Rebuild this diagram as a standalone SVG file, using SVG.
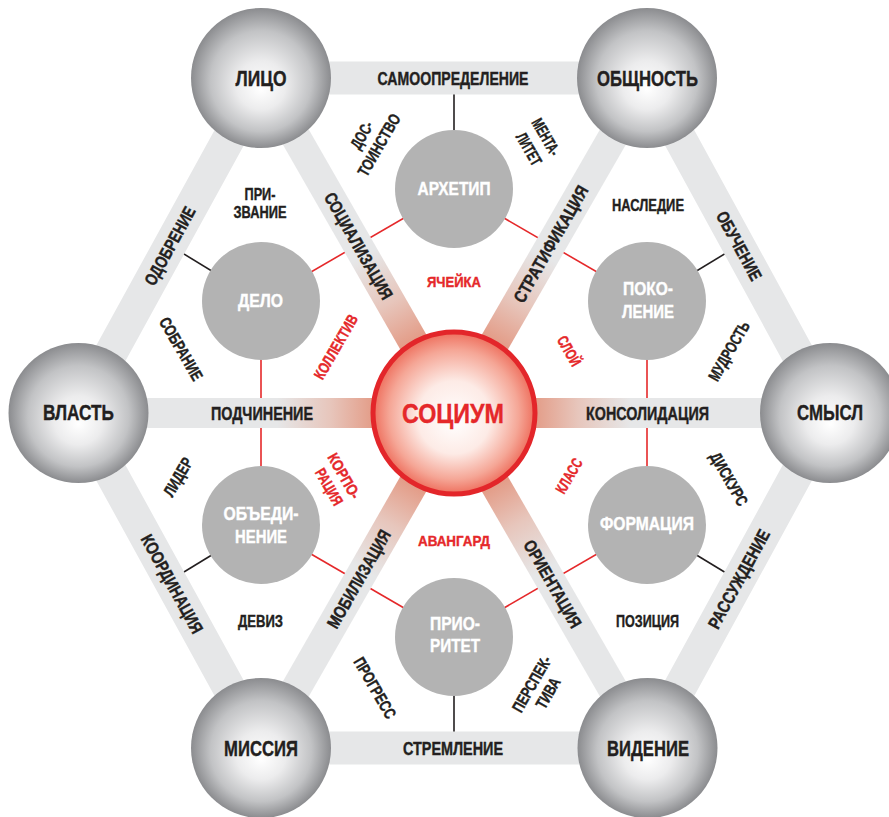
<svg xmlns="http://www.w3.org/2000/svg" width="889" height="817" viewBox="0 0 889 817">
<defs>
<radialGradient id="sph" cx="0.5" cy="0.5" r="0.5" fx="0.5" fy="0.58">
<stop offset="0" stop-color="#ffffff"/>
<stop offset="0.35" stop-color="#ececed"/>
<stop offset="0.72" stop-color="#c2c3c5"/>
<stop offset="1" stop-color="#8b8c8f"/>
</radialGradient>
<radialGradient id="soc" cx="0.5" cy="0.5" r="0.5" fx="0.5" fy="0.55">
<stop offset="0" stop-color="#ffffff"/>
<stop offset="0.45" stop-color="#fdebe6"/>
<stop offset="0.8" stop-color="#f5a696"/>
<stop offset="1" stop-color="#ee6f5d"/>
</radialGradient>
<linearGradient id="spk" x1="0" y1="0" x2="1" y2="0">
<stop offset="0" stop-color="#df7d64"/>
<stop offset="0.21" stop-color="#e39b86"/>
<stop offset="0.33" stop-color="#e7c6bc"/>
<stop offset="0.47" stop-color="#e6e7e8"/>
<stop offset="1" stop-color="#e6e7e8"/>
</linearGradient>
</defs>
<style>
.t{font-family:"Liberation Sans",Arial,sans-serif;font-weight:bold;text-anchor:middle;stroke-width:0.4px}
.big{font-size:21.5px;fill:#231f20;stroke:#231f20}
.bd{font-size:17.5px;fill:#231f20;stroke:#231f20}
.in{font-size:18.5px;fill:#ffffff;stroke:#ffffff}
.red{font-size:15.5px;fill:#e5282a;stroke:#e5282a}
.sm{font-size:16.5px;fill:#231f20;stroke:#231f20}
.soc{font-size:28px;fill:#e5282a;stroke:#e5282a}
.rl{stroke:#e5282a;stroke-width:1.6;fill:none}
.bl{stroke:#231f20;stroke-width:1.6;fill:none}
.sp{fill:url(#sph)}
.ic{fill:#b3b3b3}
.spk{fill:url(#spk)}
</style>
<rect width="889" height="817" fill="#ffffff"/>
<g id="connectors">
<line class="rl" x1="454" y1="189" x2="261" y2="301"/>
<line class="rl" x1="454" y1="189" x2="647" y2="301"/>
<line class="rl" x1="261" y1="301" x2="261" y2="525"/>
<line class="rl" x1="647" y1="301" x2="647" y2="525"/>
<line class="rl" x1="261" y1="525" x2="454" y2="637"/>
<line class="rl" x1="647" y1="525" x2="454" y2="637"/>
<line class="bl" x1="454" y1="189" x2="454" y2="78"/>
<line class="bl" x1="261" y1="301" x2="170" y2="245.5"/>
<line class="bl" x1="647" y1="301" x2="738.5" y2="245.5"/>
<line class="bl" x1="261" y1="525" x2="170" y2="580.5"/>
<line class="bl" x1="647" y1="525" x2="738.5" y2="580.5"/>
<line class="bl" x1="454" y1="637" x2="454" y2="748"/>
<polygon points="262,78 647,78 830,413 647,748 262,748 78,413" fill="none" stroke="#e6e7e8" stroke-width="33"/>
<rect class="spk" x="0" y="-15" width="386" height="30" transform="translate(454,413) rotate(-119.82)"/>
<rect class="spk" x="0" y="-15" width="386" height="30" transform="translate(454,413) rotate(-60.06)"/>
<rect class="spk" x="0" y="-15" width="376" height="30" transform="translate(454,413) rotate(180)"/>
<rect class="spk" x="0" y="-15" width="376" height="30" transform="translate(454,413)"/>
<rect class="spk" x="0" y="-15" width="386" height="30" transform="translate(454,413) rotate(119.82)"/>
<rect class="spk" x="0" y="-15" width="386" height="30" transform="translate(454,413) rotate(60.06)"/>
<text class="t bd" x="453" y="85" textLength="151" lengthAdjust="spacingAndGlyphs">САМООПРЕДЕЛЕНИЕ</text>
<text class="t bd" x="453" y="755" textLength="100" lengthAdjust="spacingAndGlyphs">СТРЕМЛЕНИЕ</text>
<text class="t bd" x="262" y="420" textLength="102" lengthAdjust="spacingAndGlyphs">ПОДЧИНЕНИЕ</text>
<text class="t bd" x="647.5" y="420" textLength="123" lengthAdjust="spacingAndGlyphs">КОНСОЛИДАЦИЯ</text>
<text class="t bd" y="6" textLength="87" lengthAdjust="spacingAndGlyphs" transform="translate(170,246) rotate(-61.2)">ОДОБРЕНИЕ</text>
<text class="t bd" y="6" textLength="76" lengthAdjust="spacingAndGlyphs" transform="translate(739,246) rotate(61.35)">ОБУЧЕНИЕ</text>
<text class="t bd" y="6" textLength="110" lengthAdjust="spacingAndGlyphs" transform="translate(172,584) rotate(61.2)">КООРДИНАЦИЯ</text>
<text class="t bd" y="6" textLength="110" lengthAdjust="spacingAndGlyphs" transform="translate(739,579) rotate(-61.35)">РАССУЖДЕНИЕ</text>
<text class="t bd" y="6" textLength="120" lengthAdjust="spacingAndGlyphs" transform="translate(358.5,246) rotate(60.2)">СОЦИАЛИЗАЦИЯ</text>
<text class="t bd" y="6" textLength="132" lengthAdjust="spacingAndGlyphs" transform="translate(551,244) rotate(-60.06)">СТРАТИФИКАЦИЯ</text>
<text class="t bd" y="6" textLength="110" lengthAdjust="spacingAndGlyphs" transform="translate(359,579) rotate(-60.2)">МОБИЛИЗАЦИЯ</text>
<text class="t bd" y="6" textLength="98" lengthAdjust="spacingAndGlyphs" transform="translate(552.5,584) rotate(60.06)">ОРИЕНТАЦИЯ</text>
</g>
<g id="litso"><circle class="sp" cx="261" cy="78" r="70"/><text class="t big" x="261" y="86" textLength="51" lengthAdjust="spacingAndGlyphs">ЛИЦО</text></g>
<g id="obshchnost"><circle class="sp" cx="647" cy="78" r="70"/><text class="t big" x="647.5" y="86" textLength="101" lengthAdjust="spacingAndGlyphs">ОБЩНОСТЬ</text></g>
<g id="vlast"><circle class="sp" cx="78.5" cy="413" r="70"/><text class="t big" x="78.5" y="420" textLength="71" lengthAdjust="spacingAndGlyphs">ВЛАСТЬ</text></g>
<g id="smysl"><circle class="sp" cx="830" cy="413" r="70"/><text class="t big" x="830" y="420" textLength="66" lengthAdjust="spacingAndGlyphs">СМЫСЛ</text></g>
<g id="missiya"><circle class="sp" cx="261" cy="748" r="70"/><text class="t big" x="261" y="755.5" textLength="74" lengthAdjust="spacingAndGlyphs">МИССИЯ</text></g>
<g id="videnie"><circle class="sp" cx="647.5" cy="748" r="70"/><text class="t big" x="648" y="755.5" textLength="82" lengthAdjust="spacingAndGlyphs">ВИДЕНИЕ</text></g>
<g id="sotsium"><circle cx="454" cy="413" r="81" fill="url(#soc)" stroke="#e3262a" stroke-width="5"/><text class="t soc" x="453" y="423" textLength="102" lengthAdjust="spacingAndGlyphs">СОЦИУМ</text></g>
<g id="arhetip"><circle class="ic" cx="454" cy="189" r="59"/><text class="t in" x="454" y="195" textLength="73" lengthAdjust="spacingAndGlyphs">АРХЕТИП</text></g>
<g id="delo"><circle class="ic" cx="261" cy="301" r="59"/><text class="t in" x="260.5" y="307" textLength="45" lengthAdjust="spacingAndGlyphs">ДЕЛО</text></g>
<g id="pokolenie"><circle class="ic" cx="647" cy="301" r="59"/><text class="t in" x="648" y="295" textLength="50" lengthAdjust="spacingAndGlyphs">ПОКО-</text><text class="t in" x="648" y="318" textLength="52" lengthAdjust="spacingAndGlyphs">ЛЕНИЕ</text></g>
<g id="obedinenie"><circle class="ic" cx="261" cy="525" r="59"/><text class="t in" x="261" y="520" textLength="75" lengthAdjust="spacingAndGlyphs">ОБЪЕДИ-</text><text class="t in" x="261" y="543" textLength="52" lengthAdjust="spacingAndGlyphs">НЕНИЕ</text></g>
<g id="formatsiya"><circle class="ic" cx="647" cy="525" r="59"/><text class="t in" x="647" y="530" textLength="94" lengthAdjust="spacingAndGlyphs">ФОРМАЦИЯ</text></g>
<g id="prioritet"><circle class="ic" cx="454" cy="637" r="59"/><text class="t in" x="455" y="630" textLength="50" lengthAdjust="spacingAndGlyphs">ПРИО-</text><text class="t in" x="455" y="652" textLength="50" lengthAdjust="spacingAndGlyphs">РИТЕТ</text></g>
<g id="labels">
<text class="t red" x="454" y="287" textLength="54" lengthAdjust="spacingAndGlyphs">ЯЧЕЙКА</text>
<text class="t red" x="454" y="546" textLength="72" lengthAdjust="spacingAndGlyphs">АВАНГАРД</text>
<text class="t red" y="5.3" textLength="72" lengthAdjust="spacingAndGlyphs" transform="translate(336,347) rotate(-60)">КОЛЛЕКТИВ</text>
<text class="t red" y="5.3" textLength="32" lengthAdjust="spacingAndGlyphs" transform="translate(569,351) rotate(60)">СЛОЙ</text>
<text class="t red" y="5.3" textLength="50" lengthAdjust="spacingAndGlyphs" transform="translate(344,476) rotate(60)">КОРПО-</text>
<text class="t red" y="5.3" textLength="40" lengthAdjust="spacingAndGlyphs" transform="translate(329,487) rotate(60)">РАЦИЯ</text>
<text class="t red" y="5.3" textLength="38" lengthAdjust="spacingAndGlyphs" transform="translate(569,476) rotate(-60)">КЛАСС</text>
<text class="t sm" x="260" y="200" textLength="31" lengthAdjust="spacingAndGlyphs">ПРИ-</text>
<text class="t sm" x="260" y="218" textLength="53" lengthAdjust="spacingAndGlyphs">ЗВАНИЕ</text>
<text class="t sm" x="648" y="211" textLength="72" lengthAdjust="spacingAndGlyphs">НАСЛЕДИЕ</text>
<text class="t sm" x="260.5" y="627" textLength="45" lengthAdjust="spacingAndGlyphs">ДЕВИЗ</text>
<text class="t sm" x="647.5" y="627" textLength="63" lengthAdjust="spacingAndGlyphs">ПОЗИЦИЯ</text>
<text class="t sm" y="5.7" textLength="70" lengthAdjust="spacingAndGlyphs" transform="translate(181,349) rotate(60)">СОБРАНИЕ</text>
<text class="t sm" y="5.7" textLength="66" lengthAdjust="spacingAndGlyphs" transform="translate(729,351) rotate(-60)">МУДРОСТЬ</text>
<text class="t sm" y="5.7" textLength="42" lengthAdjust="spacingAndGlyphs" transform="translate(178,477) rotate(-60)">ЛИДЕР</text>
<text class="t sm" y="5.7" textLength="59" lengthAdjust="spacingAndGlyphs" transform="translate(729,479) rotate(60)">ДИСКУРС</text>
<text class="t sm" y="5.7" textLength="68" lengthAdjust="spacingAndGlyphs" transform="translate(375,688) rotate(60)">ПРОГРЕСС</text>
<text class="t sm" y="5.7" textLength="29" lengthAdjust="spacingAndGlyphs" transform="translate(361.7,135) rotate(-60)">ДОС-</text>
<text class="t sm" y="5.7" textLength="69" lengthAdjust="spacingAndGlyphs" transform="translate(379,145) rotate(-60)">ТОИНСТВО</text>
<text class="t sm" y="5.7" textLength="40" lengthAdjust="spacingAndGlyphs" transform="translate(546,137) rotate(60)">МЕНТА-</text>
<text class="t sm" y="5.7" textLength="35" lengthAdjust="spacingAndGlyphs" transform="translate(529,149) rotate(60)">ЛИТЕТ</text>
<text class="t sm" y="5.7" textLength="62" lengthAdjust="spacingAndGlyphs" transform="translate(531.7,684) rotate(-60)">ПЕРСПЕК-</text>
<text class="t sm" y="5.7" textLength="33" lengthAdjust="spacingAndGlyphs" transform="translate(548,693) rotate(-60)">ТИВА</text>
</g>
</svg>
